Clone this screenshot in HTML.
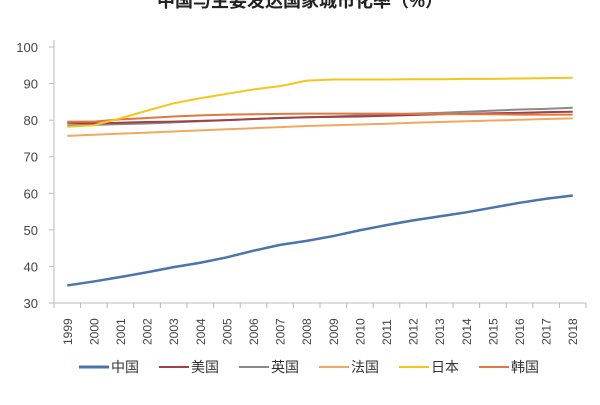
<!DOCTYPE html>
<html><head><meta charset="utf-8"><style>
body{margin:0;background:#fff;width:600px;height:400px;overflow:hidden}
text{font-family:"Liberation Sans","Noto Sans CJK SC",sans-serif}
</style></head><body>
<svg id="s" width="600" height="400" xmlns="http://www.w3.org/2000/svg">
<text x="300" y="7" text-anchor="middle" font-size="18" font-weight="bold" fill="#222">中国与主要发达国家城市化率（%）</text>
</svg>
<script>
const s=document.getElementById('s');const NS='http://www.w3.org/2000/svg';
function el(t,a,txt){const e=document.createElementNS(NS,t);for(const k in a)e.setAttribute(k,a[k]);if(txt)e.textContent=txt;s.appendChild(e);return e;}
const x0=54,cw=26.6,Y=v=>303-(v-30)*3.657;
el('line',{x1:x0,y1:40,x2:x0,y2:303,stroke:'#bbb'});
el('line',{x1:x0,y1:303,x2:x0+cw*20,y2:303,stroke:'#bbb'});
for(let v=30;v<=100;v+=10){el('line',{x1:x0-5,y1:Y(v),x2:x0,y2:Y(v),stroke:'#bbb'});el('text',{x:38,y:Y(v)+5,'text-anchor':'end','font-size':13,fill:'#444'},String(v));}
for(let i=0;i<=20;i++)el('line',{x1:x0+cw*i,y1:303,x2:x0+cw*i,y2:308,stroke:'#bbb'});
for(let i=0;i<20;i++){const cx=x0+cw*(i+0.5);el('text',{x:0,y:0,transform:`translate(${cx+4.5},345) rotate(-90)`,'font-size':12,fill:'#444'},String(1999+i));}
const d={
'#f0a860':[75.7,76.0,76.3,76.6,76.9,77.2,77.5,77.8,78.1,78.4,78.6,78.8,79.0,79.3,79.5,79.7,79.9,80.1,80.3,80.5],
'#8a8a8a':[78.6,78.7,78.9,79.1,79.4,79.7,80.0,80.3,80.6,80.8,81.0,81.3,81.5,81.8,82.0,82.3,82.6,82.9,83.1,83.4],
'#a04048':[79.3,79.1,79.3,79.5,79.6,79.8,80.0,80.3,80.6,80.8,80.9,81.0,81.2,81.4,81.6,81.7,81.9,82.0,82.2,82.3],
'#e07840':[79.6,79.6,80.2,80.6,81.0,81.3,81.5,81.6,81.7,81.8,81.8,81.8,81.8,81.7,81.7,81.6,81.6,81.5,81.5,81.5],
'#f5c518':[78.2,78.6,80.5,82.6,84.6,86.0,87.2,88.4,89.3,90.8,91.1,91.1,91.1,91.2,91.2,91.3,91.3,91.4,91.5,91.6],
'#4a74aa':[34.8,35.9,37.1,38.4,39.8,41.0,42.5,44.3,45.9,47.0,48.3,49.9,51.3,52.6,53.7,54.8,56.1,57.4,58.5,59.4]};
for(const c in d)el('polyline',{points:d[c].map((v,i)=>`${x0+cw*(i+0.5)},${Y(v)}`).join(' '),fill:'none',stroke:c,'stroke-width':c=='#4a74aa'?2.5:2});
const lg=[['中国','#4a74aa'],['美国','#a04048'],['英国','#8a8a8a'],['法国','#f0a860'],['日本','#f5c518'],['韩国','#e07840']];
lg.forEach((l,i)=>{const lx=79+i*80;el('line',{x1:lx,y1:367,x2:lx+30,y2:367,stroke:l[1],'stroke-width':l[0]=='中国'?3:2});el('text',{x:lx+32,y:372,'font-size':14,fill:'#333'},l[0]);});
</script>
</body></html>
